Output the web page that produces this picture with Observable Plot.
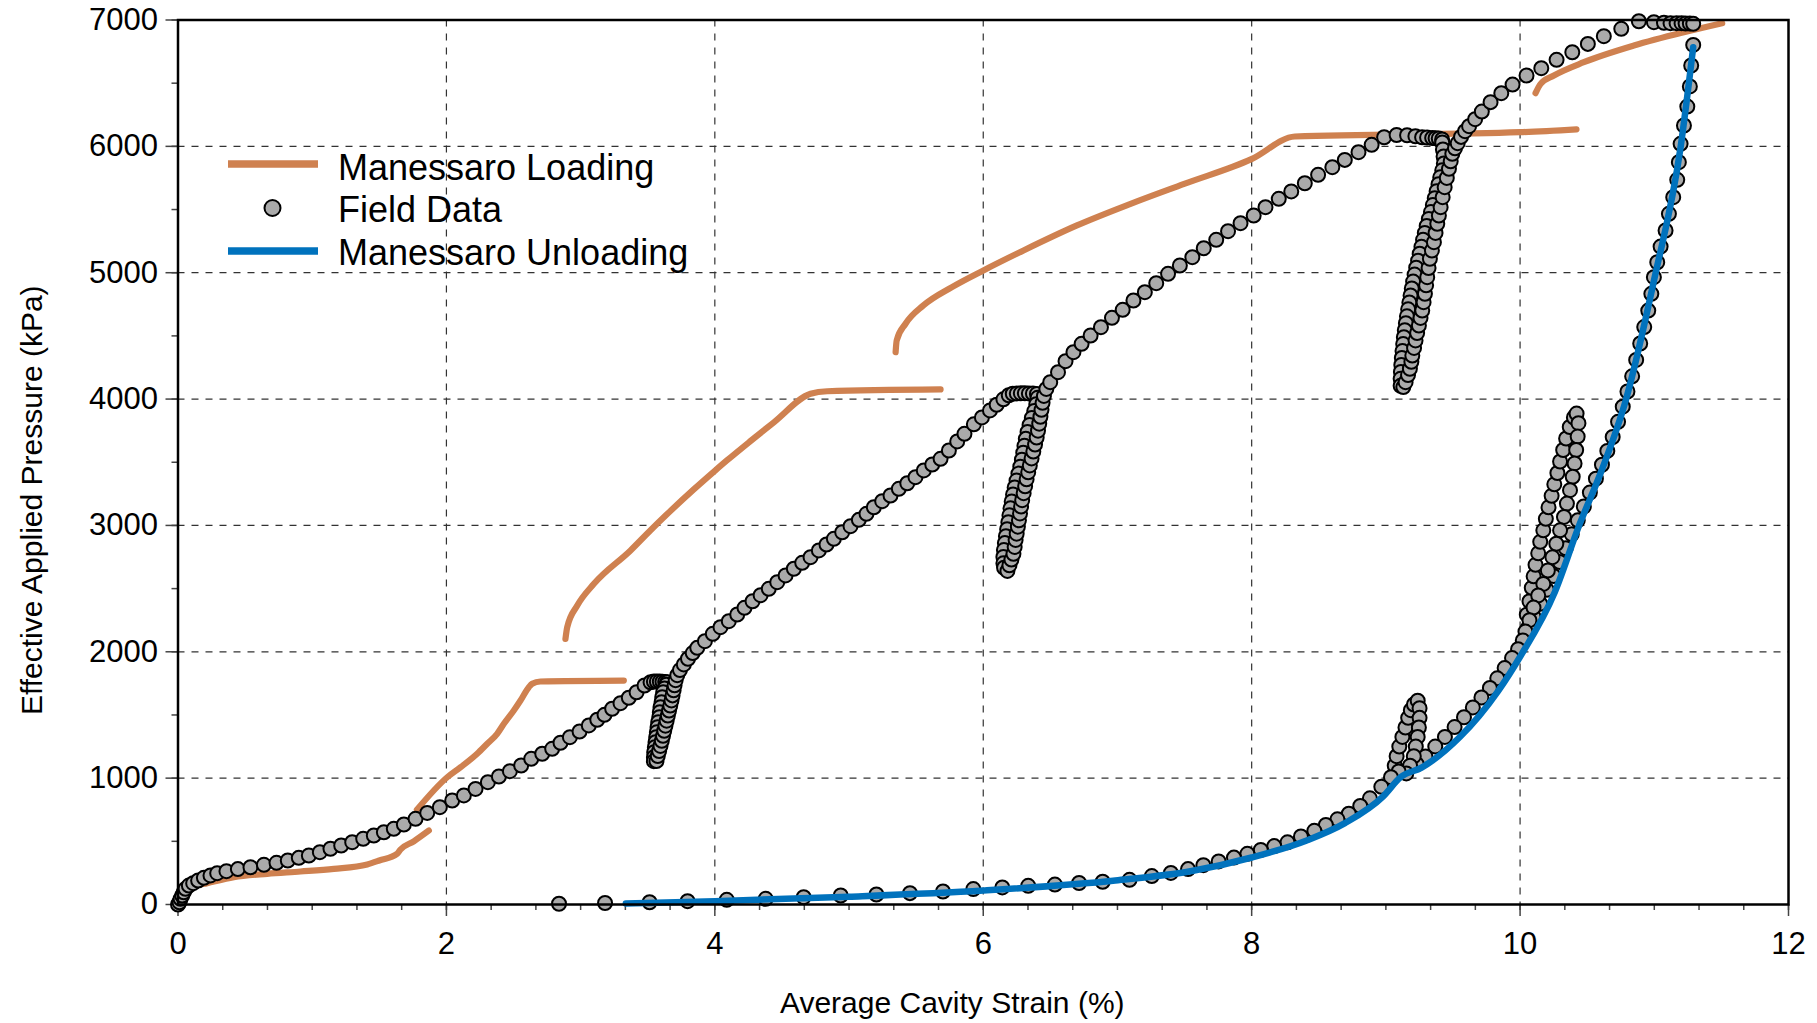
<!DOCTYPE html>
<html>
<head>
<meta charset="utf-8">
<script src="https://cdn.jsdelivr.net/npm/d3@7"></script>
<script src="https://cdn.jsdelivr.net/npm/@observablehq/plot@0.6"></script>
<style>
  html, body { margin: 0; padding: 0; background: #fff; }
  #chart { position: relative; width: 1817px; height: 1023px; }
</style>
</head>
<body>
<div id="chart"></div>
<script>
// ---------------- Data (strain %, pressure kPa) ----------------
const xTicks = [0, 2, 4, 6, 8, 10, 12];
const yTicks = [0, 1000, 2000, 3000, 4000, 5000, 6000, 7000];
const xGrid = [2, 4, 6, 8, 10];
const yGrid = [1000, 2000, 3000, 4000, 5000, 6000];

// Manessaro Loading (orange) segments
const loading1 = [[0,0],[0.02,60],[0.06,110],[0.12,145],[0.218,169],[0.416,216],[0.665,243],[0.913,261],[1.161,282],[1.41,317],[1.50,348],[1.633,401],[1.658,435],[1.757,500],[1.869,585]];
const loading2 = [[1.78,750],[2.006,1007],[2.105,1086],[2.229,1193],[2.304,1272],[2.378,1351],[2.428,1430],[2.502,1535],[2.552,1614],[2.614,1720],[2.639,1747],[2.70,1765],[3.322,1772]];
const loading3 = [[2.887,2102],[2.900,2194],[2.975,2366],[3.099,2538],[3.372,2802],[3.521,2962],[3.645,3090],[3.843,3285],[4.0,3432],[4.092,3516],[4.266,3668],[4.44,3816],[4.713,4042],[4.837,4062],[5.682,4076]];
const loading4 = [[5.347,4371],[5.355,4464],[5.421,4596],[5.554,4741],[5.767,4886],[6.001,5018],[6.30,5176],[6.698,5374],[7.098,5545],[7.497,5703],[8.002,5901],[8.322,6078],[10.0,6112],[10.42,6135]];
const loading5 = [[10.115,6421],[10.153,6495],[10.252,6561],[10.475,6666],[10.848,6798],[11.22,6903],[11.506,6975]];

// Manessaro Unloading (blue)
const unloading = [[3.337,8],[4,26],[5,62],[6,111],[6.984,190],[7.554,265],[8.0,372],[8.41,507],[8.695,644],[8.98,856],[9.109,1007],[9.266,1083],[9.551,1325],[9.836,1689],[10.0,1961],[10.26,2476],[10.44,3000],[10.6,3415],[10.79,4000],[11.0,4950],[11.196,5993],[11.29,6785]];

// Field data
const fieldLoad1 = [[0,0],[0.011,18],[0.019,45],[0.031,71],[0.043,97],[0.056,124],[0.081,150],[0.113,169],[0.150,190],[0.193,211],[0.242,230],[0.292,248],[0.361,264],[0.446,280],[0.540,295],[0.640,314],[0.734,330],[0.818,348],[0.900,369],[0.975,388],[1.057,414],[1.136,441],[1.216,467],[1.298,493],[1.380,520],[1.459,546],[1.534,572],[1.608,599],[1.683,633],[1.770,678],[1.857,725],[1.951,770],[2.043,823],[2.130,863],[2.217,915],[2.309,968],[2.391,1013],[2.473,1055],[2.557,1100],[2.632,1153],[2.714,1193],[2.788,1232],[2.850,1280],[2.920,1324],[2.992,1369],[3.061,1417],[3.124,1462],[3.178,1501],[3.235,1549],[3.297,1593],[3.359,1636],[3.417,1680],[3.476,1733],[3.521,1759],[3.546,1765],[3.568,1765],[3.59,1764],[3.61,1763],[3.63,1761],[3.645,1758]];
const fieldUnload1 = [[3.638,1740],[3.625,1710],[3.615,1680],[3.608,1641],[3.603,1601],[3.595,1561],[3.590,1522],[3.586,1482],[3.578,1443],[3.573,1403],[3.568,1364],[3.563,1324],[3.558,1284],[3.553,1245],[3.548,1205],[3.546,1166],[3.546,1134]];
const fieldReload1 = [[3.565,1135],[3.575,1175],[3.585,1215],[3.595,1255],[3.605,1295],[3.614,1335],[3.623,1375],[3.632,1415],[3.641,1455],[3.650,1495],[3.659,1535],[3.668,1575],[3.677,1615],[3.685,1655],[3.693,1695],[3.700,1735],[3.708,1775],[3.720,1815],[3.740,1855],[3.769,1900],[3.80,1945],[3.835,1990],[3.869,2031],[3.926,2084],[3.985,2142],[4.042,2195],[4.104,2242],[4.167,2295],[4.221,2348],[4.281,2400],[4.341,2448],[4.402,2498],[4.465,2551],[4.527,2604],[4.589,2657],[4.651,2704],[4.713,2749],[4.775,2802],[4.832,2849],[4.887,2894],[4.949,2946],[5.011,2994],[5.073,3044],[5.130,3092],[5.185,3144],[5.247,3192],[5.309,3237],[5.371,3290],[5.434,3334],[5.495,3382],[5.557,3435],[5.620,3482],[5.682,3527],[5.744,3593],[5.806,3665],[5.86,3725],[5.93,3800],[5.99,3855],[6.05,3910],[6.10,3955],[6.15,3998],[6.19,4030],[6.22,4042],[6.25,4045],[6.28,4046],[6.31,4046],[6.34,4045],[6.37,4044],[6.40,4040]];
const fieldUnload2 = [[6.405,4010],[6.395,3960],[6.380,3905],[6.362,3850],[6.345,3795],[6.330,3740],[6.317,3685],[6.307,3630],[6.298,3575],[6.288,3520],[6.276,3465],[6.262,3410],[6.248,3355],[6.234,3300],[6.222,3245],[6.212,3190],[6.203,3135],[6.195,3080],[6.187,3025],[6.178,2970],[6.169,2915],[6.161,2860],[6.154,2805],[6.150,2750],[6.150,2700],[6.155,2665]];
const fieldReload2 = [[6.18,2640],[6.195,2685],[6.210,2730],[6.225,2775],[6.234,2830],[6.241,2885],[6.249,2935],[6.258,2990],[6.266,3040],[6.274,3095],[6.282,3150],[6.290,3200],[6.301,3255],[6.312,3310],[6.323,3365],[6.335,3420],[6.347,3475],[6.360,3530],[6.373,3585],[6.386,3640],[6.398,3695],[6.408,3750],[6.417,3805],[6.426,3860],[6.434,3915],[6.442,3970],[6.452,4025],[6.47,4080],[6.499,4134],[6.557,4213],[6.613,4300],[6.672,4371],[6.733,4437],[6.800,4503],[6.877,4569],[6.959,4643],[7.039,4706],[7.119,4780],[7.204,4846],[7.289,4917],[7.377,4991],[7.465,5057],[7.558,5123],[7.643,5194],[7.736,5260],[7.824,5329],[7.917,5392],[8.015,5453],[8.103,5519],[8.202,5585],[8.295,5643],[8.396,5708],[8.495,5775],[8.601,5835],[8.694,5893],[8.796,5954],[8.894,6012],[8.987,6072],[9.08,6090],[9.158,6088],[9.220,6080],[9.270,6072],[9.307,6070],[9.345,6066],[9.370,6064],[9.394,6062],[9.419,6055]];
const fieldUnload3 = [[9.42,6030],[9.425,5975],[9.43,5920],[9.432,5865],[9.42,5810],[9.405,5755],[9.392,5700],[9.378,5645],[9.364,5590],[9.350,5535],[9.336,5480],[9.320,5425],[9.304,5370],[9.290,5315],[9.277,5260],[9.265,5205],[9.252,5150],[9.240,5095],[9.226,5040],[9.214,4985],[9.203,4930],[9.193,4875],[9.184,4820],[9.175,4765],[9.166,4710],[9.157,4655],[9.149,4600],[9.141,4545],[9.134,4490],[9.129,4435],[9.124,4380],[9.119,4325],[9.115,4270],[9.112,4215],[9.110,4160],[9.110,4105]];
const fieldReload3 = [[9.13,4095],[9.147,4134],[9.165,4190],[9.179,4240],[9.190,4295],[9.197,4345],[9.210,4405],[9.221,4464],[9.233,4523],[9.246,4582],[9.258,4642],[9.271,4701],[9.281,4767],[9.291,4833],[9.300,4900],[9.308,4965],[9.318,5037],[9.328,5110],[9.343,5176],[9.358,5242],[9.370,5315],[9.383,5387],[9.395,5453],[9.408,5519],[9.423,5598],[9.438,5677],[9.454,5750],[9.470,5822],[9.483,5882],[9.495,5941],[9.515,5985],[9.535,6025],[9.56,6075],[9.59,6120],[9.62,6160],[9.665,6215],[9.715,6275],[9.780,6350],[9.860,6421],[9.944,6489],[10.048,6561],[10.158,6619],[10.272,6685],[10.389,6745],[10.505,6811],[10.624,6872],[10.754,6930],[10.885,6990],[10.997,6983],[11.072,6978],[11.121,6975],[11.166,6975],[11.203,6975],[11.233,6972],[11.265,6972],[11.290,6970]];
const fieldUnload4 = [[11.290,6803],[11.275,6640],[11.265,6474],[11.246,6315],[11.221,6165],[11.196,6020],[11.183,5875],[11.171,5735],[11.141,5598],[11.109,5466],[11.084,5334],[11.047,5207],[11.022,5083],[10.997,4965],[10.978,4833],[10.955,4700],[10.925,4570],[10.895,4440],[10.865,4310],[10.835,4180],[10.80,4060],[10.765,3940],[10.73,3820],[10.69,3700],[10.65,3590],[10.61,3480],[10.565,3370],[10.52,3260],[10.475,3150],[10.43,3040],[10.385,2930],[10.34,2820],[10.295,2710],[10.25,2600],[10.20,2490],[10.15,2380],[10.10,2280],[10.06,2190]];
const fieldLoop10Up = [[10.050,2294],[10.070,2400],[10.087,2506],[10.101,2597],[10.115,2688],[10.135,2779],[10.150,2870],[10.173,2961],[10.192,3052],[10.212,3143],[10.235,3234],[10.255,3325],[10.278,3415],[10.298,3506],[10.321,3597],[10.343,3688],[10.370,3779],[10.401,3854],[10.421,3885]];
const fieldLoop10Down = [[10.435,3809],[10.429,3703],[10.418,3597],[10.406,3491],[10.392,3385],[10.372,3279],[10.349,3173],[10.327,3067],[10.298,2961],[10.270,2855],[10.241,2749],[10.207,2643],[10.173,2537],[10.135,2446],[10.10,2350],[10.07,2250]];
const fieldUnload5 = [[10.04,2160],[10.02,2090],[9.985,2020],[9.940,1950],[9.885,1871],[9.830,1790],[9.775,1714],[9.712,1638],[9.648,1560],[9.582,1482],[9.512,1404],[9.440,1326],[9.368,1250],[9.295,1172],[9.230,1110],[9.16,1065]];
const fieldLoop9Up = [[9.066,1098],[9.080,1174],[9.100,1250],[9.123,1326],[9.146,1401],[9.166,1477],[9.186,1538],[9.209,1583],[9.237,1613]];
const fieldLoop9Down = [[9.251,1553],[9.251,1477],[9.246,1401],[9.237,1326],[9.223,1250],[9.208,1174],[9.180,1098],[9.152,1037]];
const fieldUnload6 = [[9.095,1053],[9.038,1007],[8.966,931],[8.881,840],[8.809,780],[8.724,719],[8.639,674],[8.553,629],[8.467,583],[8.367,538],[8.267,492],[8.168,462],[8.068,432],[7.968,401],[7.868,371],[7.754,341],[7.640,311],[7.526,280],[7.398,250],[7.256,225],[7.090,195],[6.890,180],[6.714,170],[6.534,158],[6.335,148],[6.142,135],[5.926,122],[5.700,103],[5.454,90],[5.204,79],[4.938,71],[4.662,58],[4.379,45],[4.089,37],[3.797,26],[3.514,18],[3.182,12],[2.839,6]];

// ---------------- Build tables ----------------
const toRows = (arr, seg) => arr.map(([strain, pressure]) => ({strain, pressure, seg}));
const loadingRows = [loading1, loading2, loading3, loading4, loading5].flatMap((a, i) => toRows(a, "L" + i));
const unloadingRows = toRows(unloading, "U");
const fieldRows = [fieldLoad1, fieldUnload1, fieldReload1, fieldUnload2, fieldReload2, fieldUnload3, fieldReload3,
  fieldUnload4, fieldLoop10Up, fieldLoop10Down, fieldUnload5, fieldLoop9Up, fieldLoop9Down, fieldUnload6]
  .flatMap((a, i) => toRows(a, "F" + i));

const xMinor = d3.range(0, 12.001, 1 / 3);
const yMinor = d3.range(0, 7001, 500);

const ORANGE = "#CF8150";
const BLUE = "#0072BD";
const FONT = "'Liberation Sans', Arial, Helvetica, sans-serif";

const plot = Plot.plot({
  width: 1817,
  height: 1023,
  marginLeft: 177.5,
  marginRight: 29,
  marginTop: 19.5,
  marginBottom: 119,
  style: {fontFamily: FONT, fontSize: "31px", background: "white", color: "black", overflow: "visible"},
  x: {domain: [0, 12], label: null},
  y: {domain: [0, 7000], label: null},
  marks: [
    Plot.gridX(xGrid, {stroke: "#333", strokeOpacity: 1, strokeWidth: 1.2, strokeDasharray: "7,7"}),
    Plot.gridY(yGrid, {stroke: "#333", strokeOpacity: 1, strokeWidth: 1.2, strokeDasharray: "7,7"}),
    Plot.axisX(xMinor, {tickSize: 6, text: null, label: null, stroke: "#444", strokeWidth: 1.5}),
    Plot.axisX(xTicks, {tickSize: 12, tickPadding: 15, label: null, stroke: "#444", strokeWidth: 1.5, tickFormat: d => String(d)}),
    Plot.axisY(yMinor, {tickSize: 6, text: null, label: null, stroke: "#444", strokeWidth: 1.5}),
    Plot.axisY(yTicks, {tickSize: 12, tickPadding: 8, label: null, stroke: "#444", strokeWidth: 1.5, tickFormat: d => String(d)}),
    Plot.line(loadingRows, {x: "strain", y: "pressure", z: "seg", stroke: ORANGE, strokeWidth: 6.2, curve: "monotone-x"}),
    Plot.dot(fieldRows, {x: "strain", y: "pressure", r: 7, fill: "#aaaaaa", stroke: "black", strokeWidth: 2}),
    Plot.line(unloadingRows, {x: "strain", y: "pressure", stroke: BLUE, strokeWidth: 6.5, curve: "monotone-x"}),
    Plot.frame({stroke: "black", strokeWidth: 2.5}),
    Plot.text(["Average Cavity Strain (%)"], {text: d => d, frameAnchor: "bottom", textAnchor: "middle", lineAnchor: "bottom", dx: -31, dy: 108, fontSize: 30}),
    Plot.text(["Effective Applied Pressure (kPa)"], {text: d => d, frameAnchor: "left", textAnchor: "middle", rotate: -90, lineAnchor: "middle", dx: -146, dy: 38, fontSize: 30})
  ]
});

document.getElementById("chart").appendChild(plot);

// ---------------- Legend (inside the frame, top-left) ----------------
const svg = d3.select(plot);
const lg = svg.append("g").attr("font-family", FONT).attr("font-size", 36).attr("fill", "black").attr("text-anchor", "start");
lg.append("line").attr("x1", 228).attr("x2", 318).attr("y1", 164).attr("y2", 164).attr("stroke", ORANGE).attr("stroke-width", 7.5);
lg.append("circle").attr("cx", 272.5).attr("cy", 208).attr("r", 8).attr("fill", "#aaaaaa").attr("stroke", "black").attr("stroke-width", 2);
lg.append("line").attr("x1", 228).attr("x2", 318).attr("y1", 251).attr("y2", 251).attr("stroke", BLUE).attr("stroke-width", 7.5);
lg.append("text").attr("x", 338).attr("y", 179.5).attr("text-anchor", "start").text("Manessaro Loading");
lg.append("text").attr("x", 338).attr("y", 222).attr("text-anchor", "start").text("Field Data");
lg.append("text").attr("x", 338).attr("y", 265).attr("text-anchor", "start").text("Manessaro Unloading");
</script>
</body>
</html>
